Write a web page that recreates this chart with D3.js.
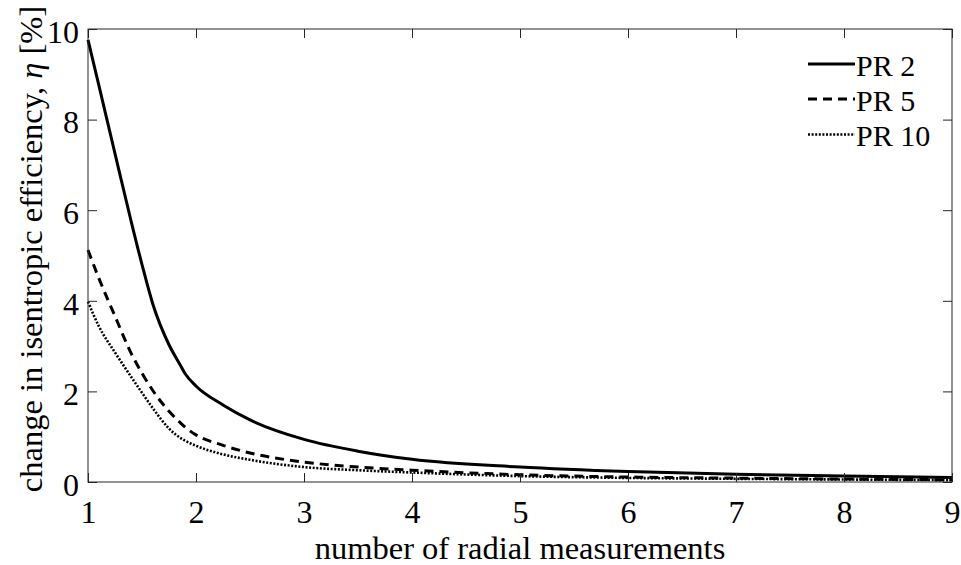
<!DOCTYPE html>
<html>
<head>
<meta charset="utf-8">
<script src="https://cdn.jsdelivr.net/npm/d3@7"></script>
<style>
  html, body { margin: 0; padding: 0; background: #fff; }
  svg { display: block; }
</style>
</head>
<body>
<svg id="chart" width="961" height="565"></svg>
<script>
// ---- data ----
const xValues = [1, 1.1, 1.25, 1.4, 1.5, 1.6, 1.75, 1.85, 1.9, 2, 2.25, 2.5, 3, 3.5, 4, 5, 6, 7, 8, 9];
const pr2  = [9.76, 8.76, 7.25, 5.75, 4.80, 3.93, 3.03, 2.60, 2.39, 2.12, 1.70, 1.37, 0.94, 0.68, 0.50, 0.33, 0.23, 0.17, 0.13, 0.10];
const pr5  = [5.12, 4.50, 3.66, 2.84, 2.40, 2.02, 1.56, 1.32, 1.21, 1.04, 0.81, 0.64, 0.44, 0.33, 0.26, 0.16, 0.11, 0.085, 0.065, 0.05];
const pr10 = [3.98, 3.44, 2.86, 2.32, 1.97, 1.63, 1.18, 0.98, 0.91, 0.80, 0.61, 0.49, 0.33, 0.26, 0.21, 0.13, 0.09, 0.07, 0.055, 0.04];
const seriesNames = ["PR 2", "PR 5", "PR 10"];
const xTicks = [1, 2, 3, 4, 5, 6, 7, 8, 9];
const yTicks = [0, 2, 4, 6, 8, 10];

const FONT = "Liberation Serif";

const series = [
  { name: seriesNames[0], values: pr2,  dash: null,  width: 3 },
  { name: seriesNames[1], values: pr5,  dash: "9,6", width: 3 },
  { name: seriesNames[2], values: pr10, dash: "2,1.6", width: 2.6 }
];

const svg = d3.select("#chart");
const m = { left: 88, right: 952, top: 29, bottom: 482 };

const x = d3.scaleLinear().domain([1, 9]).range([m.left, m.right]);
const y = d3.scaleLinear().domain([0, 10]).range([m.bottom, m.top]);

const tickLen = 9;
const axisColor = "#262626";

// lines
const line = d3.line().x((d, i) => x(xValues[i])).y(d => y(d)).curve(d3.curveMonotoneX);
const plot = svg.append("g");
series.forEach(s => {
  plot.append("path")
    .datum(s.values)
    .attr("d", line)
    .attr("fill", "none")
    .attr("stroke", "#000")
    .attr("stroke-width", s.width)
    .attr("stroke-dasharray", s.dash);
});

// axes (inward ticks, box)
const fs = 32;
const bottomAxis = d3.axisBottom(x).tickValues(xTicks).tickSize(-tickLen).tickPadding(18.5).tickFormat(d3.format("d"));
const topAxis = d3.axisTop(x).tickValues(xTicks).tickSize(-tickLen).tickFormat("");
const leftAxis = d3.axisLeft(y).tickValues(yTicks).tickSize(-tickLen).tickPadding(9).tickFormat(d3.format("d"));
const rightAxis = d3.axisRight(y).tickValues(yTicks).tickSize(-tickLen).tickFormat("");

function style(g) {
  g.attr("font-family", null).attr("font-size", null);
  g.selectAll("path.domain").remove();
  g.selectAll(".tick line").attr("stroke", axisColor).attr("stroke-width", 1);
  g.selectAll(".tick text").style("font-family", FONT).style("font-size", fs + "px").attr("fill", "#000");
}
const gb = svg.append("g").attr("transform", `translate(0,${m.bottom})`).call(bottomAxis);
const gt = svg.append("g").attr("transform", `translate(0,${m.top})`).call(topAxis);
const gl = svg.append("g").attr("transform", `translate(${m.left},0)`).call(leftAxis);
const gr = svg.append("g").attr("transform", `translate(${m.right},0)`).call(rightAxis);
[gb, gt, gl, gr].forEach(style);
gl.selectAll(".tick text").attr("dy", "0.415em");

// box
svg.append("rect")
  .attr("x", m.left).attr("y", m.top)
  .attr("width", m.right - m.left).attr("height", m.bottom - m.top)
  .attr("fill", "none").attr("stroke", axisColor).attr("stroke-width", 1);

// axis labels
svg.append("text")
  .attr("x", (m.left + m.right) / 2).attr("y", 559)
  .attr("text-anchor", "middle")
  .style("font-family", FONT).style("font-size", "32.5px")
  .text("number of radial measurements");

const yl = svg.append("text")
  .attr("transform", "translate(42,249) rotate(-90)")
  .attr("text-anchor", "middle")
  .style("font-family", FONT).style("font-size", "32.5px");
yl.append("tspan").text("change in isentropic efficiency, ");
yl.append("tspan").style("font-style", "italic").text("η");
yl.append("tspan").text(" [%]");

// legend
const lg = svg.append("g");
const legLineY = [64, 99, 134.5];
const legTextY = [75.7, 110.5, 145.5];
series.forEach((s, i) => {
  lg.append("line")
    .attr("x1", 808).attr("x2", 855)
    .attr("y1", legLineY[i]).attr("y2", legLineY[i])
    .attr("stroke", "#000").attr("stroke-width", s.width)
    .attr("stroke-dasharray", s.dash);
  lg.append("text")
    .attr("x", 856).attr("y", legTextY[i])
    .style("font-family", FONT).style("font-size", "30px")
    .text(s.name);
});
</script>
</body>
</html>
